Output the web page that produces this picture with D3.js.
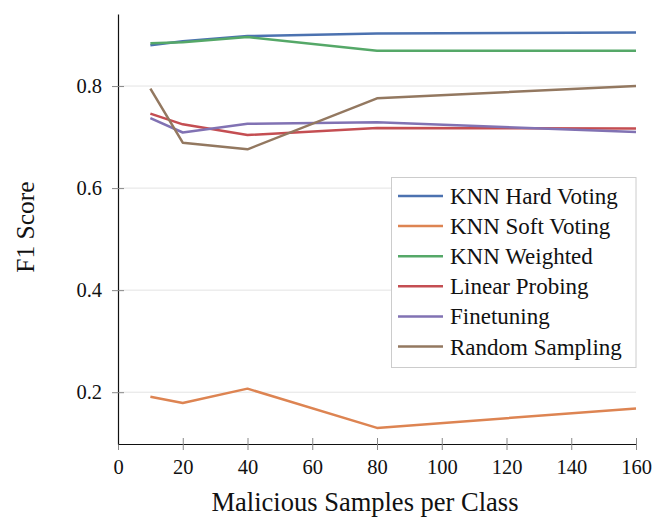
<!DOCTYPE html>
<html lang="en">
<head>
<meta charset="utf-8">
<script src="https://d3js.org/d3.v7.min.js"></script>
<style>
  body { margin: 0; background: #fff; }
  text { font-family: "Liberation Serif", "Times New Roman", serif; fill: #111; }
</style>
</head>
<body>
<svg id="chart" width="654" height="517"></svg>
<script>
// data
var samples = [10, 20, 40, 80, 160];
var seriesNames = ["KNN Hard Voting", "KNN Soft Voting", "KNN Weighted", "Linear Probing", "Finetuning", "Random Sampling"];
var knnHard = [0.880, 0.888, 0.898, 0.903, 0.905];
var knnSoft = [0.191, 0.179, 0.207, 0.130, 0.168];
var knnWeighted = [0.884, 0.886, 0.896, 0.869, 0.869];
var linearProbing = [0.746, 0.725, 0.704, 0.718, 0.717];
var finetuning = [0.737, 0.709, 0.726, 0.729, 0.710];
var randomSampling = [0.795, 0.689, 0.676, 0.776, 0.800];
var xTicks = [0, 20, 40, 60, 80, 100, 120, 140, 160];
var yTicks = [0.2, 0.4, 0.6, 0.8];
var colors = ["#4c72b0", "#dd8452", "#55a868", "#c44e52", "#8172b3", "#937860"];

var allSeries = [knnHard, knnSoft, knnWeighted, linearProbing, finetuning, randomSampling];

var svg = d3.select("#chart");

var x = d3.scaleLinear().domain([0, 160]).range([118, 636]);
var y = d3.scaleLinear().domain([0.0985, 0.9412]).range([444, 14]);

// grid
svg.append("g")
  .selectAll("line")
  .data(yTicks)
  .enter().append("line")
  .attr("x1", x(0)).attr("x2", x(160))
  .attr("y1", function(d) { return y(d); })
  .attr("y2", function(d) { return y(d); })
  .attr("stroke", "#e3e3e3")
  .attr("stroke-width", 1);

// axes
var xAxis = svg.append("g")
  .attr("transform", "translate(0,444)")
  .call(d3.axisBottom(x).tickValues(xTicks).tickSizeInner(-6).tickSizeOuter(0).tickPadding(15));
xAxis.selectAll(".tick line").attr("y1", 6).attr("stroke", "#888");
xAxis.select(".domain").attr("stroke", "#111").attr("stroke-width", 1.2);
xAxis.selectAll("text").attr("font-size", "20.5px").attr("font-family", "Liberation Serif").attr("fill", "#111");

var yAxis = svg.append("g")
  .attr("transform", "translate(118,0)")
  .call(d3.axisLeft(y).tickValues(yTicks).tickFormat(d3.format(".1f")).tickSizeInner(-6).tickSizeOuter(0).tickPadding(16));
yAxis.selectAll(".tick line").attr("x1", -6).attr("stroke", "#888");
yAxis.select(".domain").attr("stroke", "#111").attr("stroke-width", 1.2);
yAxis.selectAll("text").attr("font-size", "20.5px").attr("font-family", "Liberation Serif").attr("fill", "#111");

// lines
var line = d3.line()
  .x(function(d, i) { return x(samples[i]); })
  .y(function(d) { return y(d); });

svg.append("g")
  .selectAll("path")
  .data(allSeries)
  .enter().append("path")
  .attr("d", line)
  .attr("fill", "none")
  .attr("stroke", function(d, i) { return colors[i]; })
  .attr("stroke-width", 2.5)
  .attr("stroke-linejoin", "round");

// axis titles
svg.append("text")
  .attr("x", x(80) - 12)
  .attr("y", 511)
  .attr("text-anchor", "middle")
  .attr("font-size", "26.5px")
  .text("Malicious Samples per Class");

svg.append("text")
  .attr("transform", "translate(34,227) rotate(-90)")
  .attr("text-anchor", "middle")
  .attr("font-size", "25.5px")
  .text("F1 Score");

// legend
var legend = svg.append("g");
legend.append("rect")
  .attr("x", 391.5).attr("y", 177.5)
  .attr("width", 244.5).attr("height", 190)
  .attr("fill", "#fff")
  .attr("stroke", "#cccccc");

var rows = legend.selectAll(".row")
  .data(seriesNames)
  .enter().append("g")
  .attr("class", "row")
  .attr("transform", function(d, i) { return "translate(0," + (196 + i * 30.1) + ")"; });

rows.append("line")
  .attr("x1", 398).attr("x2", 443)
  .attr("stroke", function(d, i) { return colors[i]; })
  .attr("stroke-width", 2.5);

rows.append("text")
  .attr("x", 450)
  .attr("dy", "0.35em")
  .attr("font-size", "23px")
  .text(function(d) { return d; });
</script>
</body>
</html>
